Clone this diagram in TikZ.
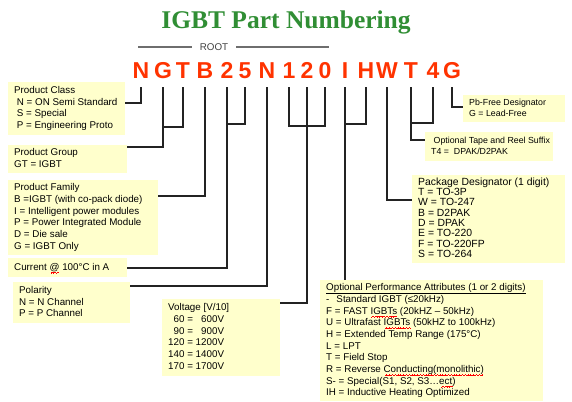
\documentclass[tikz,border=0pt]{standalone}
\usepackage{fontspec}
\setmainfont{Liberation Sans}
\newfontfamily\titlefont{Liberation Serif}
\definecolor{boxfill}{RGB}{255,255,204}
\definecolor{titlegreen}{RGB}{48,142,52}
\definecolor{partred}{RGB}{255,51,0}
\definecolor{linecol}{RGB}{35,35,35}
\definecolor{rootgray}{RGB}{110,110,110}
\newcommand\fsz[2]{\fontsize{#1bp}{#2bp}\selectfont}
\newcommand\ind{\hspace*{0.28em}}
\newcommand\boxtext[2]{\makebox[#1][l]{\begin{tabular}{@{}l@{}}#2\end{tabular}}}
\newsavebox\sqbox
\newcommand\wavepiece{\rule[-3.3bp]{0.7bp}{0.7bp}\rule[-2.8bp]{0.7bp}{0.7bp}\rule[-2.3bp]{0.7bp}{0.7bp}\rule[-2.8bp]{0.7bp}{0.7bp}}
\newcommand\redsq[1]{\sbox\sqbox{#1}\rlap{\usebox\sqbox}{\color{red}\leaders\hbox{\wavepiece}\hskip\wd\sqbox}}
\tikzset{
  box/.style={fill=boxfill, anchor=north west, inner xsep=6bp, inner ysep=0pt, text=black},
  letter/.style={text=partred, font=\fsz{23}{23}\bfseries, anchor=base, inner sep=0pt},
  conn/.style={draw=linecol, line width=1.1bp},
  rootline/.style={draw=rootgray, line width=1.3bp},
  titlestyle/.style={text=titlegreen, font=\titlefont\bfseries\fsz{25.5}{25.5}, anchor=base, inner sep=0pt},
}
\begin{document}
\begin{tikzpicture}[x=1bp,y=-1bp]
\useasboundingbox (0,0) rectangle (572,401);

% title
\node[titlestyle] (title) at (286,28) {IGBT Part Numbering};

% root
\node[font=\fsz{9.8}{11.7}, text=black!75, inner xsep=8bp, inner ysep=1bp] (root) at (214,47) {ROOT};
\coordinate (rootL) at (138,47);
\coordinate (rootR) at (329,47);
\draw[rootline] (rootL) -- (root.west);
\draw[rootline] (root.east) -- (rootR);

% part letters
\foreach \t/\x/\n in {N/141/l1, G/163/l2, T/183/l3, B/205/l4, 2/227/l5, 5/245/l6, N/267/l7, 1/289/l8, 2/307/l9, 0/325/l10, I/345/l11, H/366/l12, W/387/l13, T/411/l14, 4/433/l15, G/452/l16}
  \node[letter] (\n) at (\x,78) {\t};

% boxes
\node[box, minimum height=53bp, font=\fsz{9.8}{11.7}] (pc) at (8,82)
  {\boxtext{105bp}{Product Class\\\ind N = ON Semi Standard\\\ind S = Special\\\ind P = Engineering Proto}};
\node[box, minimum height=28bp, font=\fsz{9.8}{11.7}] (pg) at (8,145)
  {\boxtext{107bp}{Product Group\\GT = IGBT}};
\node[box, minimum height=75bp, font=\fsz{9.8}{11.7}] (pf) at (8,180)
  {\boxtext{138bp}{Product Family\\B =IGBT (with co-pack diode)\\I = Intelligent power modules\\P = Power Integrated Module\\D = Die sale\\G = IGBT Only}};
\node[box, minimum height=19bp, font=\fsz{9.8}{11.7}] (cur) at (8,258)
  {\boxtext{107bp}{Current \redsq{@} 100°C in A}};
\node[box, minimum height=41bp, font=\fsz{9.8}{11.7}] (pol) at (13,282)
  {\boxtext{105bp}{Polarity\\N = N Channel\\P = P Channel}};
\node[box, minimum height=77bp, font=\fsz{9.8}{11.7}] (vol) at (162,299)
  {\boxtext{106bp}{Voltage [V/10]\\
   \begin{tabular}{@{}r@{ = }r@{}}
   60 & 600V\\
   90 & 900V\\
   120 & 1200V\\
   140 & 1400V\\
   170 & 1700V
   \end{tabular}}};
\node[box, minimum height=121bp, font=\fsz{9.8}{11.7}] (opt) at (320,280)
  {\boxtext{211bp}{\underline{Optional Performance Attributes (1 or 2 digits)}\\
   -\hspace*{7bp}Standard IGBT (≤20kHz)\\
   F = FAST \redsq{IGBTs} (20kHZ – 50kHz)\\
   U = Ultrafast \redsq{IGBTs} (50kHZ to 100kHz)\\
   H = Extended Temp Range (175°C)\\
   L = LPT\\
   T = Field Stop\\
   R = Reverse \redsq{Conducting(monolithic)}\\
   S- = Special(S1, S2, S3…\redsq{ect})\\
   IH = Inductive Heating Optimized}};
\node[box, minimum height=88bp, font=\fsz{10.4}{10.3}] (pkg) at (412,175)
  {\boxtext{141bp}{Package Designator (1 digit)\\T = TO-3P\\W = TO-247\\B = D2PAK\\D = DPAK\\E = TO-220\\F = TO-220FP\\S = TO-264}};
\node[box, minimum height=29bp, font=\fsz{8.8}{11}] (tape) at (425,132)
  {\boxtext{116bp}{\ind Optional Tape and Reel Suffix\\T4 = \ind DPAK/D2PAK}};
\node[box, minimum height=27bp, font=\fsz{8.8}{10.5}] (pb) at (463,95)
  {\boxtext{90bp}{Pb-Free Designator\\G = Lead-Free}};

% connectors
\draw[conn] (l1 |- 0,87) |- (pc.east |- 0,103);
\draw[conn] (l2 |- 0,87) |- (pg.east |- 0,147);
\draw[conn] (l3 |- 0,87) |- (l2 |- 0,127);
\draw[conn] (l4 |- 0,87) |- (pf.east |- 0,196);
\draw[conn] (l5 |- 0,87) |- (cur.east |- 0,268);
\draw[conn] (l6 |- 0,87) |- (l5 |- 0,124);
\draw[conn] (l7 |- 0,87) |- (pol.east |- 0,286);
\draw[conn] (l8 |- 0,87) |- (l10 |- 0,126) -- (l10 |- 0,87);
\draw[conn] (l9 |- 0,87) |- (vol.east |- 0,303);
\draw[conn] (l11 |- 0,87) -- (l11 |- opt.north);
\draw[conn] (l12 |- 0,87) |- (l11 |- 0,124);
\draw[conn] (l13 |- 0,87) |- (pkg.west |- 0,200);
\draw[conn] (l14 |- 0,87) |- (tape.west |- 0,140);
\draw[conn] (l15 |- 0,87) |- (l14 |- 0,123);
\draw[conn] (l16 |- 0,87) |- (pb.west |- 0,107);
\end{tikzpicture}
\end{document}
